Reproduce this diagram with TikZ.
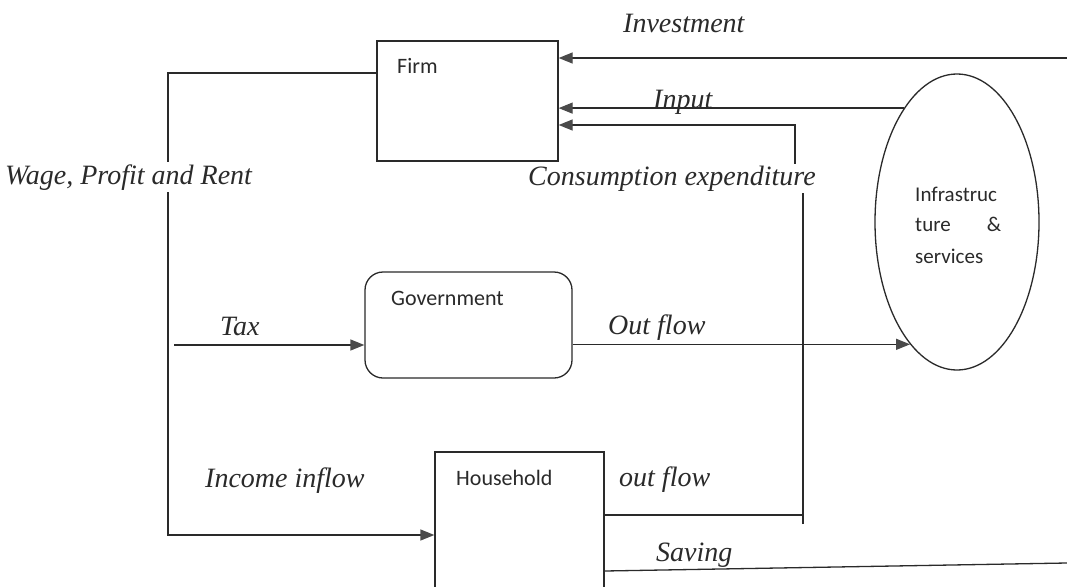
\documentclass[tikz,border=0pt]{standalone}
\usepackage{fontspec}
\setmainfont{Liberation Serif}
\setsansfont{Carlito}
\usetikzlibrary{arrows.meta,shapes.geometric,calc}
\definecolor{ink}{HTML}{2A2A2A}
\definecolor{tip}{HTML}{4A4A4A}
\begin{document}
\begin{tikzpicture}[x=1pt,y=-1pt,
  flow/.style={draw=ink, line width=1.3pt},
  arr/.style={flow,-{Triangle[length=14pt,width=11pt,color=tip]}},
  box/.style={draw=ink, line width=1.3pt, inner sep=0pt},
  lab/.style={font=\fontsize{28}{32}\selectfont\itshape, text=ink, inner sep=0pt, anchor=base west},
  boxtxt/.style={font=\sffamily\fontsize{22}{26}\selectfont, text=ink, inner sep=0pt, anchor=base west},
  inftxt/.style={boxtxt, font=\sffamily\fontsize{21}{26}\selectfont},
]
\useasboundingbox (0,0) rectangle (1067,586);
\clip (0,0) rectangle (1067,586);
\fill[white] (0,0) rectangle (1067,586);

% boxes
\node[box, minimum width=181pt, minimum height=120pt] (firm) at (467.5,101) {};
\node[box, rounded corners=18pt, minimum width=207pt, minimum height=106pt] (gov) at (468.5,325) {};
\node[box, ellipse, minimum width=164pt, minimum height=296pt] (infra) at (957,222) {};
\node[box, minimum width=169pt, minimum height=150pt] (hh) at (519.5,527) {};

% box texts
\node[boxtxt] (firmt) at (397,74) {Firm};
\node[boxtxt] (govt) at (391,305) {Government};
\node[boxtxt] (hht) at (456,485) {Household};
\node[inftxt] (inf1) at (915,201) {Infrastruc};
\node[inftxt] (inf2) at (915,231) {\makebox[86pt][s]{ture \&}};
\node[inftxt] (inf3) at (915,263) {services};

% helper coordinates
\coordinate (invR) at (1067,58);
\coordinate (cB) at (803,524);
\coordinate (cK) at (803,178);
\coordinate (cJ) at (795,178);
\coordinate (cTop) at (795,125);
\coordinate (oJ) at (803,515);
\coordinate (savR) at (1067,563);
\coordinate (wTop) at (168,73);
\coordinate (wBot) at (168,535);
\coordinate (taxL) at (174,345);

% connectors
\draw[arr] (invR) -- (invR -| firm.east);
\draw[arr] (infra.115.6) -- (infra.115.6 -| firm.east);
\draw[arr] (cB) -- (cK) -- (cJ) -- (cTop) -- (cTop -| firm.east);
\draw[flow] (oJ -| hh.east) -- (oJ);
\draw[flow] ([yshift=-44pt]hh.east) -- (savR);
\draw[arr] (wTop -| firm.west) -- (wTop) -- (wBot) -- (wBot -| hh.west);
\draw[arr] (taxL) -- (taxL -| gov.west);
\draw[arr] (infra.249.5 -| gov.east) -- (infra.249.5);

% labels
\node[lab, fill=white, inner ysep=2pt] (wage) at (5,184) {Wage, Profit and Rent};
\node[lab] (inv) at (623,33) {Investment};
\node[lab] (inp) at (653,108) {Input};
\node[lab, fill=white, inner ysep=2pt] (cons) at (528,185) {Consumption expenditure};
\node[lab] (tax) at (220,335) {Tax};
\node[lab] (outf) at (608,334) {Out flow};
\node[lab] (inc) at (205,487) {Income inflow};
\node[lab] (outh) at (619,486) {out flow};
\node[lab] (sav) at (656,561) {Saving};
\end{tikzpicture}
\end{document}
